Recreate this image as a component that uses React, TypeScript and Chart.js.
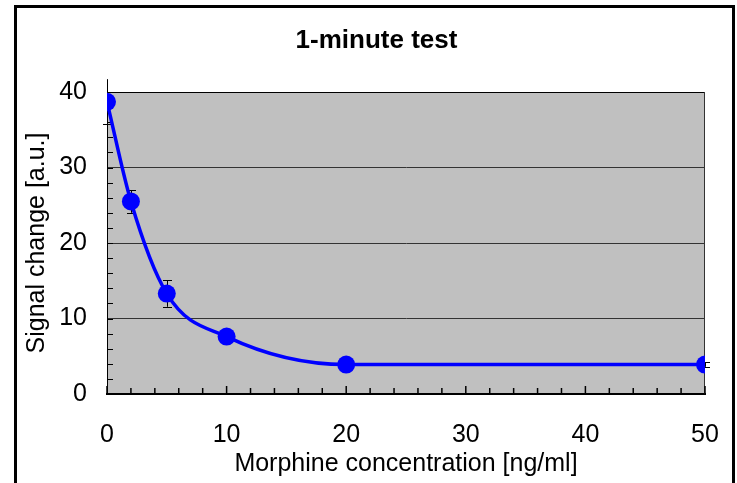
import React, { useEffect, useRef } from "react";
import { Chart, registerables } from "chart.js";

Chart.register(...registerables);

const chartTitle = "1-minute test";
const xAxisTitle = "Morphine concentration [ng/ml]";
const yAxisTitle = "Signal change [a.u.]";
const concentrations = [0, 2, 5, 10, 20, 50];
const signalValues = [38.7, 25.5, 13.3, 7.6, 3.9, 3.9];
const errorValues = [3.0, 1.5, 1.75, 0.4, 0.3, 0.3];
const xMin = 0;
const xMax = 50;
const xMajorStep = 10;
const xMinorStep = 2;
const yMin = 0;
const yMax = 40;
const yMajorStep = 10;
const yMinorStep = 2;

const FONT = "'Liberation Sans', Arial, sans-serif";

const decorPlugin = {
  id: "decor",
  beforeDraw(chart: any) {
    const { ctx, chartArea: a } = chart;
    ctx.save();
    ctx.fillStyle = "#C0C0C0";
    ctx.fillRect(a.left, a.top, a.right - a.left, a.bottom - a.top);
    ctx.restore();
  },
  beforeDatasetsDraw(chart: any) {
    const { ctx, chartArea: a } = chart;
    const xs = chart.scales.x;
    const ys = chart.scales.y;
    ctx.save();
    ctx.strokeStyle = "#000";
    ctx.lineWidth = 1;
    ctx.beginPath();
    ctx.moveTo(a.left, Math.round(a.top) + 0.5);
    ctx.lineTo(a.right, Math.round(a.top) + 0.5);
    ctx.stroke();
    ctx.strokeStyle = "#333";
    ctx.beginPath();
    ctx.moveTo(Math.round(a.right) - 0.5, a.top);
    ctx.lineTo(Math.round(a.right) - 0.5, a.bottom);
    ctx.stroke();
    ctx.strokeStyle = "#000";
    ctx.lineWidth = 1.5;
    for (let v = xMin; v <= xMax + 1e-9; v += xMinorStep) {
      const px = xs.getPixelForValue(v);
      const len = Math.abs(v % xMajorStep) < 1e-9 ? 8 : 6;
      ctx.beginPath();
      ctx.moveTo(px, a.bottom);
      ctx.lineTo(px, a.bottom - len);
      ctx.stroke();
    }
    ctx.lineWidth = 1;
    for (let v = yMin; v <= yMax + 1e-9; v += yMinorStep) {
      const py = Math.round(ys.getPixelForValue(v)) + 0.5;
      ctx.beginPath();
      ctx.moveTo(a.left, py);
      ctx.lineTo(a.left + 6, py);
      ctx.stroke();
    }
    ctx.strokeStyle = "#000";
    ctx.lineWidth = 1;
    for (let i = 0; i < concentrations.length; i++) {
      const px = Math.round(xs.getPixelForValue(concentrations[i])) + 0.5;
      const yTop = ys.getPixelForValue(signalValues[i] + errorValues[i]);
      const yBot = ys.getPixelForValue(signalValues[i] - errorValues[i]);
      ctx.beginPath();
      ctx.moveTo(px, yTop);
      ctx.lineTo(px, yBot);
      ctx.stroke();
      for (const yy of [yTop, yBot]) {
        if (yy >= a.top - 0.5 && yy <= a.bottom + 0.5) {
          const py = Math.round(yy) + 0.5;
          ctx.beginPath();
          ctx.moveTo(px - 4.5, py);
          ctx.lineTo(px + 4.5, py);
          ctx.stroke();
        }
      }
    }
    ctx.restore();
  },
  afterDraw(chart: any) {
    const { ctx } = chart;
    ctx.save();
    ctx.strokeStyle = "#000";
    ctx.lineWidth = 3;
    ctx.strokeRect(15.5, 6.5, 718, 520);
    ctx.restore();
  },
};

export default function App() {
  const ref = useRef<HTMLCanvasElement>(null);
  useEffect(() => {
    if (!ref.current) return;
    const data = concentrations.map((x, i) => ({ x, y: signalValues[i] }));
    const chart = new Chart(ref.current, {
      type: "line",
      data: {
        datasets: [
          {
            label: "Signal",
            data,
            borderColor: "#0000FF",
            backgroundColor: "#0000FF",
            borderWidth: 3.5,
            cubicInterpolationMode: "monotone",
            pointRadius: 9,
            pointHoverRadius: 9,
            pointBackgroundColor: "#0000FF",
            pointBorderWidth: 0,
            fill: false,
          },
        ],
      },
      options: {
        responsive: false,
        animation: false,
        events: [],
        layout: { padding: { left: 16, right: 0, top: 0, bottom: 0 } },
        plugins: {
          legend: { display: false },
          tooltip: { enabled: false },
          title: {
            display: true,
            text: chartTitle,
            color: "#000",
            font: { family: FONT, size: 26, weight: "bold", lineHeight: 1 },
            padding: { top: 28, bottom: 38 },
          },
        },
        scales: {
          x: {
            type: "linear",
            position: "bottom",
            min: xMin,
            max: xMax,
            ticks: {
              stepSize: xMajorStep,
              color: "#000",
              font: { family: FONT, size: 25 },
              padding: 2,
              maxRotation: 0,
            },
            grid: { display: false, drawTicks: true, tickLength: 24 },
            border: { display: true, color: "#000", width: 2 },
            title: {
              display: true,
              text: xAxisTitle,
              color: "#000",
              font: { family: FONT, size: 25 },
              padding: { top: 0, bottom: 4 },
            },
            afterFit(scale: any) {
              scale.height = 89;
            },
          },
          y: {
            type: "linear",
            position: "left",
            min: yMin,
            max: yMax,
            ticks: {
              stepSize: yMajorStep,
              color: "#000",
              font: { family: FONT, size: 25 },
              padding: 20,
            },
            grid: {
              drawTicks: false,
              color: (c: any) => (c.tick && c.tick.value === yMax ? "#000" : "#333"),
              lineWidth: 1,
            },
            border: { display: true, color: "#000", width: 1 },
            title: {
              display: true,
              text: yAxisTitle,
              color: "#000",
              font: { family: FONT, size: 25 },
              padding: { top: 6, bottom: 0 },
            },
            afterFit(scale: any) {
              scale.width = 91;
            },
          },
          y2: {
            type: "linear",
            position: "right",
            display: true,
            min: yMin,
            max: yMax,
            ticks: { display: false },
            grid: { display: false, drawTicks: false },
            border: { display: false },
            afterFit(scale: any) {
              scale.width = 32;
            },
          },
        },
      },
      plugins: [decorPlugin],
    });
    return () => chart.destroy();
  }, []);
  return (
    <div style={{ position: "fixed", left: 0, top: 0, width: 737, height: 483, background: "#fff" }}>
      <canvas ref={ref} width={737} height={483} style={{ display: "block" }} />
    </div>
  );
}
